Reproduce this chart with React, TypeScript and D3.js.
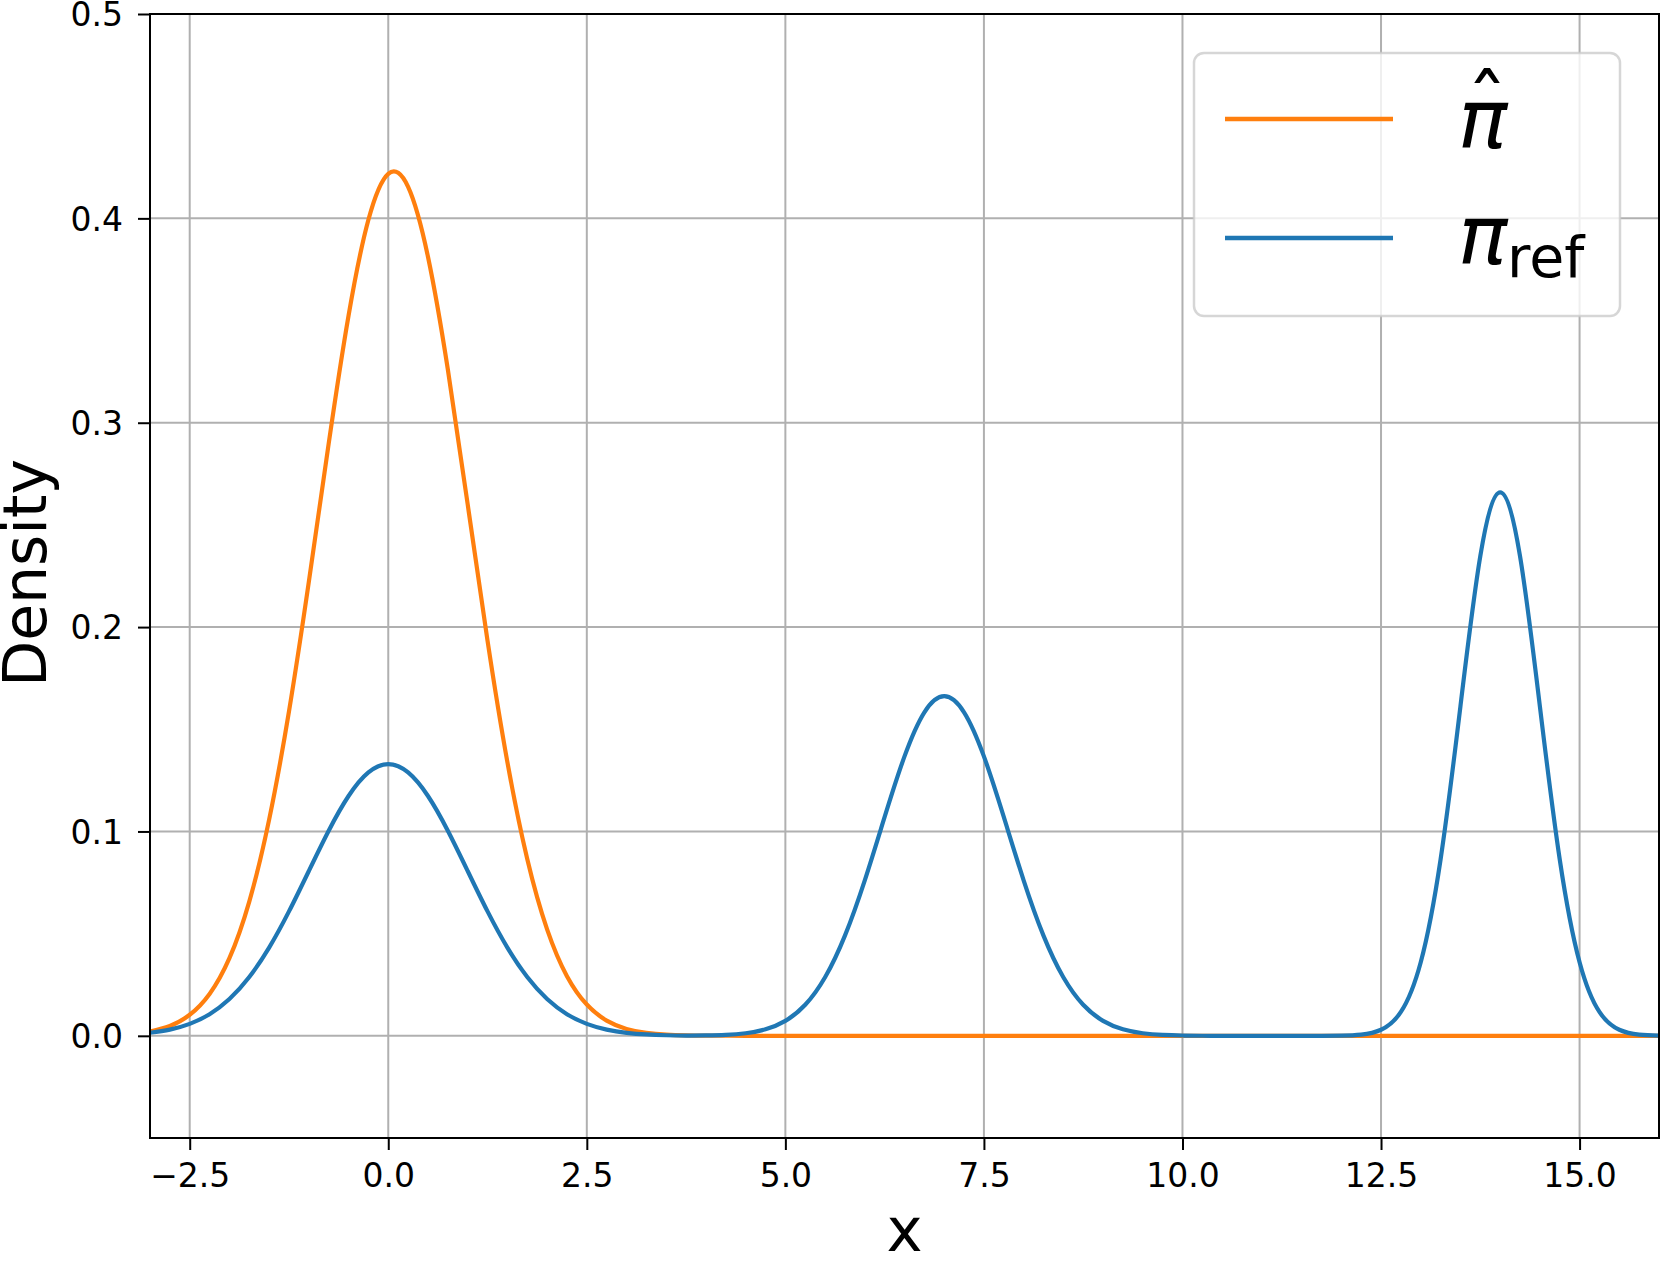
import React, { useRef, useEffect } from "react";
import { select, scaleLinear, line, axisBottom, axisLeft, curveNatural } from "d3";

// x positions the densities were read at
const gridX = [
  -3, -2.75, -2.5, -2.25, -2, -1.75, -1.5, -1.25, -1, -0.75, -0.5, -0.25,
  0, 0.25, 0.5, 0.75, 1, 1.25, 1.5, 1.75, 2, 2.25, 2.5, 2.75,
  3, 3.25, 3.5, 3.75, 4, 4.25, 4.5, 4.75, 5, 5.25, 5.5, 5.75,
  6, 6.25, 6.5, 6.75, 7, 7.25, 7.5, 7.75, 8, 8.25, 8.5, 8.75,
  9, 9.25, 9.5, 9.75, 10, 10.25, 10.5, 10.75, 11, 11.25, 11.5, 11.75,
  12, 12.25, 12.5, 12.75, 13, 13.25, 13.5, 13.75, 14, 14.25, 14.5, 14.75,
  15, 15.25, 15.5, 15.75, 16,
];

// pi_ref (blue)
const refDensity = [
  0.00148, 0.00303, 0.00584, 0.01058, 0.018, 0.02877, 0.04317, 0.06088, 0.08066, 0.10037, 0.11735, 0.12889,
  0.13298, 0.12889, 0.11735, 0.10037, 0.08066, 0.06088, 0.04317, 0.02877, 0.018, 0.01058, 0.00584, 0.00303,
  0.00148, 0.00068, 0.00029, 0.00012, 0.00019, 0.00045, 0.00126, 0.00318, 0.0073, 0.01519, 0.02866, 0.04904,
  0.0761, 0.10712, 0.13674, 0.15832, 0.16623, 0.15832, 0.13674, 0.10712, 0.0761, 0.04904, 0.02866, 0.01519,
  0.0073, 0.00318, 0.00126, 0.00045, 0.00015, 0.00004, 0.00001, 0, 0, 0, 0, 0.00001,
  0.00009, 0.00058, 0.00296, 0.01169, 0.03599, 0.08636, 0.16131, 0.23471, 0.26596, 0.23471, 0.16131, 0.08636,
  0.03599, 0.01169, 0.00296, 0.00058, 0.00009,
];

// pi hat (orange)
const hatX = [
  -3, -2.75, -2.5, -2.25, -2, -1.75, -1.5, -1.25, -1, -0.75, -0.5, -0.25,
  0, 0.25, 0.5, 0.75, 1, 1.25, 1.5, 1.75, 2, 2.25, 2.5, 2.75,
  3, 3.25, 3.5, 3.75, 4, 4.5, 5, 6, 7, 8, 9, 10, 11, 12, 13, 14, 15, 16,
];
const hatDensity = [
  0.00211, 0.00483, 0.0103, 0.0205, 0.038, 0.0657, 0.1058, 0.1588, 0.2222, 0.2898, 0.3524, 0.3993,
  0.4218, 0.4154, 0.3812, 0.3261, 0.2601, 0.1933, 0.1339, 0.0865, 0.0521, 0.0292, 0.0153, 0.00745,
  0.00338, 0.00143, 0.00057, 0.00021, 0.00007, 0.00001, 0, 0, 0, 0, 0, 0, 0, 0, 0, 0, 0, 0,
];

const xTicks = [-2.5, 0, 2.5, 5, 7.5, 10, 12.5, 15];
const yTicks = [0, 0.1, 0.2, 0.3, 0.4, 0.5];

const ORANGE = "#ff7f0e";
const BLUE = "#1f77b4";
const FONT = "DejaVu Sans";

function DensityChart() {
  const svgRef = useRef<SVGSVGElement>(null);

  useEffect(() => {
    const svg = select(svgRef.current);
    svg.selectAll("*").remove();

    const left = 150, right = 1659, top = 14, bottom = 1138;

    const xScale = scaleLinear().domain([-3, 16]).range([left, right]);
    const yScale = scaleLinear().domain([-0.05, 0.5]).range([bottom, top]);

    // grid
    const grid = svg.append("g");
    grid.selectAll(".vgrid")
      .data(xTicks)
      .join("line")
      .attr("x1", (d) => xScale(d))
      .attr("x2", (d) => xScale(d))
      .attr("y1", top)
      .attr("y2", bottom)
      .attr("stroke", "#b0b0b0")
      .attr("stroke-width", 2);
    grid.selectAll(".hgrid")
      .data(yTicks)
      .join("line")
      .attr("x1", left)
      .attr("x2", right)
      .attr("y1", (d) => yScale(d))
      .attr("y2", (d) => yScale(d))
      .attr("stroke", "#b0b0b0")
      .attr("stroke-width", 2);

    // curves
    const hatLine = line<number>()
      .x((d, i) => xScale(hatX[i]))
      .y((d) => yScale(d))
      .curve(curveNatural);
    const refLine = line<number>()
      .x((d, i) => xScale(gridX[i]))
      .y((d) => yScale(d))
      .curve(curveNatural);

    svg.append("path")
      .attr("d", hatLine(hatDensity))
      .attr("fill", "none")
      .attr("stroke", ORANGE)
      .attr("stroke-width", 4.2);
    svg.append("path")
      .attr("d", refLine(refDensity))
      .attr("fill", "none")
      .attr("stroke", BLUE)
      .attr("stroke-width", 4.2);

    // axes
    const xAxis = axisBottom(xScale)
      .tickValues(xTicks)
      .tickSize(12)
      .tickPadding(14)
      .tickSizeOuter(0)
      .tickFormat((d) => {
        const v = Number(d);
        return (v < 0 ? "\u2212" : "") + Math.abs(v).toFixed(1);
      });
    const gx = svg.append("g")
      .attr("transform", `translate(0, ${bottom})`)
      .call(xAxis);
    gx.select(".domain").remove();
    gx.selectAll("line").attr("stroke", "#000").attr("stroke-width", 2);
    gx.selectAll("text")
      .attr("font-family", FONT)
      .attr("font-size", 33)
      .attr("fill", "#000");

    const yAxis = axisLeft(yScale)
      .tickValues(yTicks)
      .tickSize(12)
      .tickPadding(15)
      .tickSizeOuter(0)
      .tickFormat((d) => Number(d).toFixed(1));
    const gy = svg.append("g")
      .attr("transform", `translate(${left}, 0)`)
      .call(yAxis);
    gy.select(".domain").remove();
    gy.selectAll("line").attr("stroke", "#000").attr("stroke-width", 2);
    gy.selectAll("text")
      .attr("font-family", FONT)
      .attr("font-size", 33)
      .attr("dy", "0.36em")
      .attr("fill", "#000");

    // frame
    svg.append("rect")
      .attr("x", left)
      .attr("y", top)
      .attr("width", right - left)
      .attr("height", bottom - top)
      .attr("fill", "none")
      .attr("stroke", "#000")
      .attr("stroke-width", 2);

    // axis labels
    svg.append("text")
      .attr("x", (left + right) / 2)
      .attr("y", 1251)
      .attr("text-anchor", "middle")
      .attr("font-family", FONT)
      .attr("font-size", 61)
      .text("x");
    svg.append("text")
      .attr("transform", "translate(46, 573) rotate(-90)")
      .attr("text-anchor", "middle")
      .attr("font-family", FONT)
      .attr("font-size", 60)
      .text("Density");

    // legend
    const lg = svg.append("g");
    lg.append("rect")
      .attr("x", 1194)
      .attr("y", 53)
      .attr("width", 426)
      .attr("height", 263)
      .attr("rx", 10)
      .attr("fill", "#fff")
      .attr("fill-opacity", 0.8)
      .attr("stroke", "#cccccc")
      .attr("stroke-opacity", 0.8)
      .attr("stroke-width", 2.5);
    const entries = [
      { color: ORANGE, y: 119 },
      { color: BLUE, y: 238 },
    ];
    lg.selectAll(".lline")
      .data(entries)
      .join("line")
      .attr("x1", 1225)
      .attr("x2", 1393)
      .attr("y1", (d) => d.y)
      .attr("y2", (d) => d.y)
      .attr("stroke", (d) => d.color)
      .attr("stroke-width", 4.5);

    lg.append("text")
      .attr("x", 1458)
      .attr("y", 148)
      .attr("font-family", FONT)
      .attr("font-style", "italic")
      .attr("font-size", 82)
      .text("\u03c0");
    lg.append("text")
      .attr("x", 1487)
      .attr("y", 134)
      .attr("text-anchor", "middle")
      .attr("font-family", FONT)
      .attr("font-size", 82)
      .text("\u02c6");

    const refText = lg.append("text")
      .attr("font-family", FONT)
      .attr("font-size", 82);
    refText.append("tspan")
      .attr("x", 1458)
      .attr("y", 264)
      .attr("font-style", "italic")
      .text("\u03c0");
    refText.append("tspan")
      .attr("x", 1507)
      .attr("y", 277)
      .attr("font-size", 57)
      .text("ref");
  }, []);

  return (
    <svg
      ref={svgRef}
      width={1660}
      height={1267}
      style={{ position: "absolute", left: 0, top: 0, background: "#fff" }}
    />
  );
}

export default function App() {
  return <DensityChart />;
}
